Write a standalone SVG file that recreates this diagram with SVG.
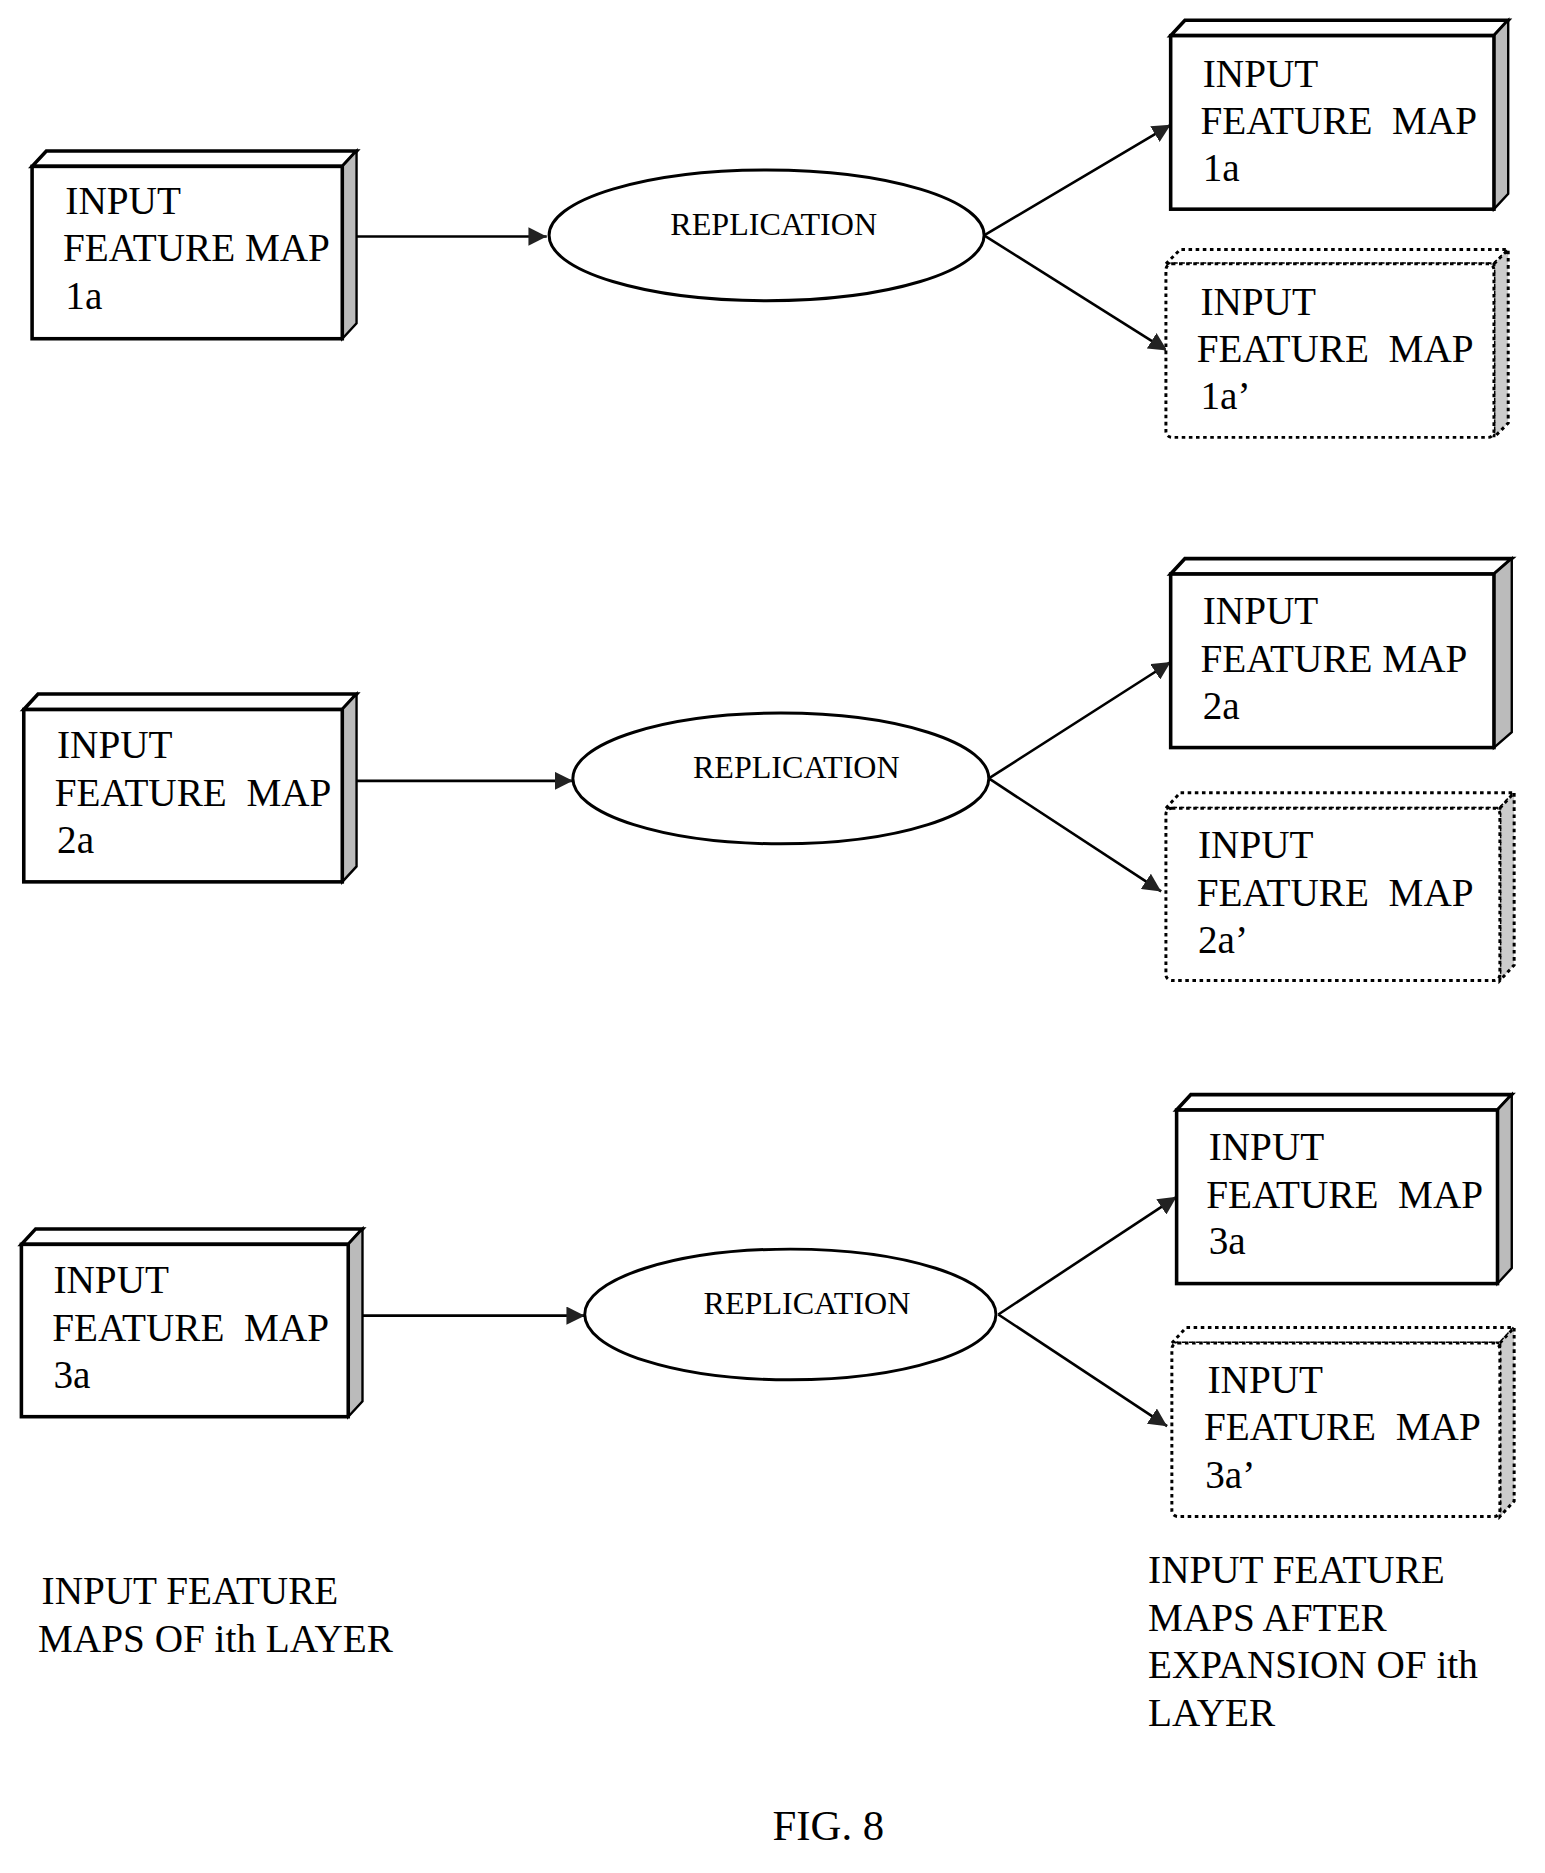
<svg xmlns="http://www.w3.org/2000/svg" width="1545" height="1873" viewBox="0 0 1545 1873">
<defs>
<style>
.t{font-family:"Liberation Serif","DejaVu Serif",serif;font-size:33px;fill:#000}
.r{font-family:"Liberation Serif","DejaVu Serif",serif;font-size:27px;fill:#000;text-anchor:middle}
.f{fill:#fff;stroke:#000;stroke-width:3}
.s{fill:#bbb;stroke:#000;stroke-width:2}
.d{fill:#fff;stroke:#000;stroke-width:2.5;stroke-dasharray:3 3}
.ds{fill:#ccc;stroke:#000;stroke-width:2.5;stroke-dasharray:3 3}
.c{stroke:#000;stroke-width:2.2;fill:none;marker-end:url(#a)}
.e{fill:#fff;stroke:#000;stroke-width:2.5}
</style>
<marker id="a" viewBox="0 0 10 10" refX="10" refY="5" markerWidth="7" markerHeight="7" orient="auto" markerUnits="strokeWidth"><path d="M0,0 L10,5 L0,10 z" fill="#222"/></marker>
</defs>
<rect width="1545" height="1873" fill="#fff"/>
<g transform="scale(1.1885)">
<g id="connectors">
<line class="c" x1="300" y1="199" x2="460" y2="199"/>
<line class="c" x1="828" y1="198" x2="985" y2="105"/>
<line class="c" x1="828" y1="198" x2="982" y2="295"/>
<line class="c" x1="300" y1="657" x2="482" y2="657"/>
<line class="c" x1="832" y1="655" x2="985" y2="557"/>
<line class="c" x1="832" y1="655" x2="977" y2="750"/>
<line class="c" x1="305" y1="1107" x2="492" y2="1107"/>
<line class="c" x1="840" y1="1106" x2="990" y2="1007"/>
<line class="c" x1="840" y1="1106" x2="982" y2="1200"/>
</g>
<g id="in1a"><path class="f" d="M27,140 L39,127 L300,127 L288,140 Z"/><path class="s" d="M288,140 L300,127 L300,272 L288,285 Z"/><rect class="f" x="27" y="140" width="261" height="145"/>
<text class="t" x="55" y="180">INPUT</text><text class="t" x="53" y="220">FEATURE MAP</text><text class="t" x="55" y="260">1a</text></g>
<g id="rep1"><ellipse class="e" cx="645" cy="198" rx="183" ry="55"/><text class="r" x="651" y="198">REPLICATION</text></g>
<g id="out1a"><path class="f" d="M985,30 L997,17 L1269,17 L1257,30 Z"/><path class="s" d="M1257,30 L1269,17 L1269,163 L1257,176 Z"/><rect class="f" x="985" y="30" width="272" height="146"/>
<text class="t" x="1012" y="73">INPUT</text><text class="t" x="1010" y="113" xml:space="preserve">FEATURE  MAP</text><text class="t" x="1012" y="152">1a</text></g>
<g id="out1b"><path class="d" d="M981,222 L993,210 L1269,210 L1257,222 Z"/><path class="ds" d="M1257,222 L1269,210 L1269,356 L1257,368 Z"/><rect class="d" x="981" y="222" width="276" height="146" rx="5"/>
<text class="t" x="1010" y="265">INPUT</text><text class="t" x="1007" y="305" xml:space="preserve">FEATURE  MAP</text><text class="t" x="1010" y="344">1a’</text></g>

<g id="in2a"><path class="f" d="M20,597 L32,584 L300,584 L288,597 Z"/><path class="s" d="M288,597 L300,584 L300,729 L288,742 Z"/><rect class="f" x="20" y="597" width="268" height="145"/>
<text class="t" x="48" y="638">INPUT</text><text class="t" x="46" y="678" xml:space="preserve">FEATURE  MAP</text><text class="t" x="48" y="718">2a</text></g>
<g id="rep2"><ellipse class="e" cx="657" cy="655" rx="175" ry="55"/><text class="r" x="670" y="655">REPLICATION</text></g>
<g id="out2a"><path class="f" d="M985,483 L997,470 L1272,470 L1257,483 Z"/><path class="s" d="M1257,483 L1272,470 L1272,616 L1257,629 Z"/><rect class="f" x="985" y="483" width="272" height="146"/>
<text class="t" x="1012" y="525">INPUT</text><text class="t" x="1010" y="565">FEATURE MAP</text><text class="t" x="1012" y="605">2a</text></g>
<g id="out2b"><path class="d" d="M981,680 L993,667 L1274,667 L1262,680 Z"/><path class="ds" d="M1262,680 L1274,667 L1274,812 L1262,825 Z"/><rect class="d" x="981" y="680" width="281" height="145" rx="5"/>
<text class="t" x="1008" y="722">INPUT</text><text class="t" x="1007" y="762" xml:space="preserve">FEATURE  MAP</text><text class="t" x="1008" y="802">2a’</text></g>

<g id="in3a"><path class="f" d="M18,1047 L30,1034 L305,1034 L293,1047 Z"/><path class="s" d="M293,1047 L305,1034 L305,1179 L293,1192 Z"/><rect class="f" x="18" y="1047" width="275" height="145"/>
<text class="t" x="45" y="1088">INPUT</text><text class="t" x="44" y="1128" xml:space="preserve">FEATURE  MAP</text><text class="t" x="45" y="1168">3a</text></g>
<g id="rep3"><ellipse class="e" cx="665" cy="1106" rx="173" ry="55"/><text class="r" x="679" y="1106">REPLICATION</text></g>
<g id="out3a"><path class="f" d="M990,934 L1002,921 L1272,921 L1260,934 Z"/><path class="s" d="M1260,934 L1272,921 L1272,1067 L1260,1080 Z"/><rect class="f" x="990" y="934" width="270" height="146"/>
<text class="t" x="1017" y="976">INPUT</text><text class="t" x="1015" y="1016" xml:space="preserve">FEATURE  MAP</text><text class="t" x="1017" y="1055">3a</text></g>
<g id="out3b"><path class="d" d="M986,1130 L998,1117 L1274,1117 L1262,1130 Z"/><path class="ds" d="M1262,1130 L1274,1117 L1274,1263 L1262,1276 Z"/><rect class="d" x="986" y="1130" width="276" height="146" rx="5"/>
<text class="t" x="1016" y="1172">INPUT</text><text class="t" x="1013" y="1212" xml:space="preserve">FEATURE  MAP</text><text class="t" x="1014" y="1252">3a’</text></g>

<g id="labels">
<text class="t" x="35" y="1350">INPUT FEATURE</text>
<text class="t" x="32" y="1390">MAPS OF ith LAYER</text>
<text class="t" x="966" y="1332">INPUT FEATURE</text>
<text class="t" x="966" y="1372">MAPS AFTER</text>
<text class="t" x="966" y="1412">EXPANSION OF ith</text>
<text class="t" x="966" y="1452">LAYER</text>
<text class="t" x="697" y="1548" text-anchor="middle" style="font-size:36px">FIG. 8</text>
</g>
</g>
</svg>
